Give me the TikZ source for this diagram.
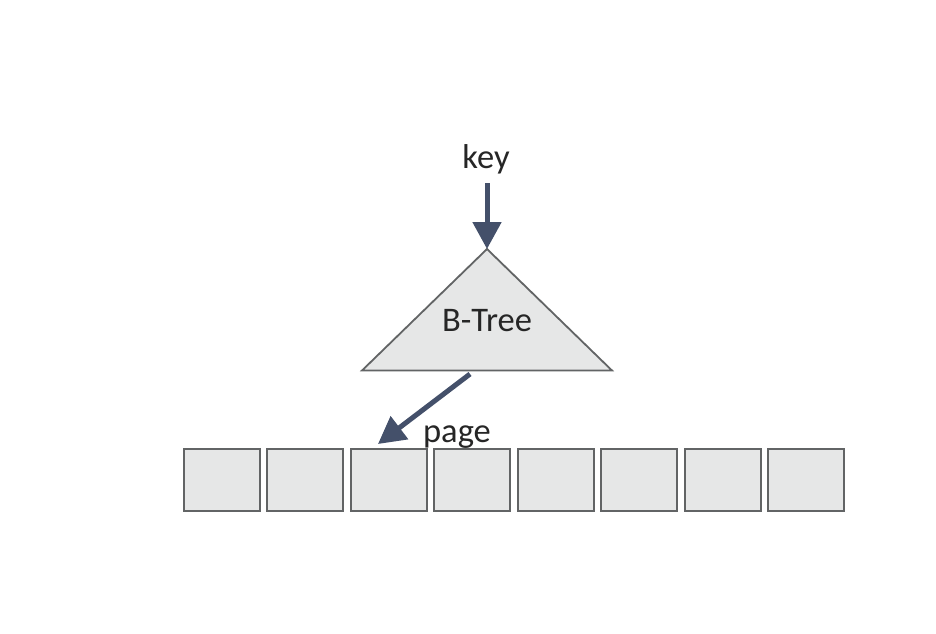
\documentclass[tikz,border=0pt]{standalone}
\usepackage{fontspec}
\setmainfont{Carlito}
\usetikzlibrary{arrows.meta}
\definecolor{boxfill}{HTML}{E6E7E7}
\definecolor{boxedge}{HTML}{626465}
\definecolor{arrowc}{HTML}{44506A}
\begin{document}
\begin{tikzpicture}[x=1pt,y=-1pt,
  pagebox/.style={draw=boxedge,fill=boxfill,line width=2pt,minimum width=76pt,minimum height=62pt,inner sep=0pt,anchor=north west},
  bigarrow/.style={draw=arrowc,line width=5pt,-{Triangle[width=28pt,length=27pt]}},
  lbl/.style={font=\fontsize{34.5}{36}\selectfont,text=black!85,inner sep=0pt,anchor=base}]
\useasboundingbox (0,0) rectangle (936,633);
\fill[white] (0,0) rectangle (936,633);
\foreach \i in {0,...,7}{
  \node[pagebox] (p\i) at ({182.5+83.5*\i},448) {};
}
\coordinate (apex) at (487,249);
\coordinate (bl) at (362,370.5);
\coordinate (br) at (612,370.5);
\draw[draw=boxedge,fill=boxfill,line width=1.8pt,line join=miter] (apex) -- (br) -- (bl) -- cycle;
\node[lbl] (bt) at (487,331) {B-Tree};
\node[lbl] (key) at (486,168) {key};
\coordinate (keyend) at (487,183);
\draw[bigarrow] (keyend) -- (apex);
\coordinate (pgstart) at (470,374);
\coordinate (pgtip) at (378,444);
\draw[bigarrow] (pgstart) -- (pgtip);
\node[lbl] (pg) at (457,442) {page};
\end{tikzpicture}
\end{document}
